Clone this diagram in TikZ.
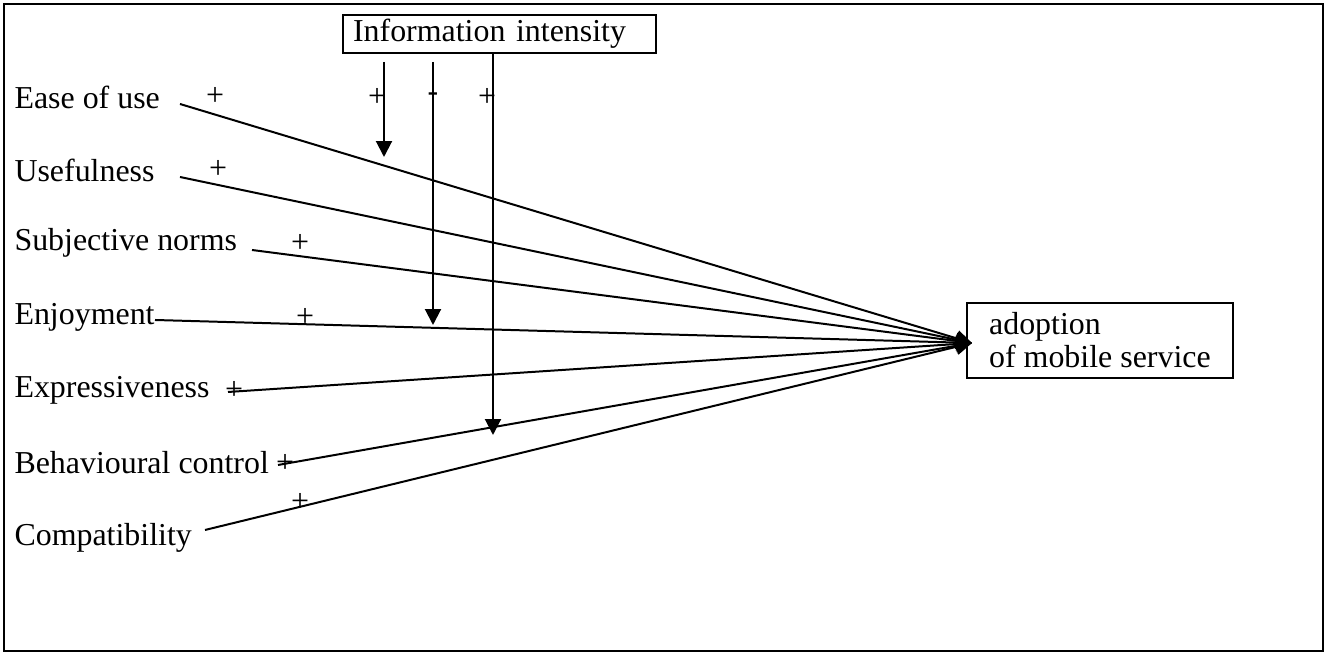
\documentclass[tikz,border=0pt]{standalone}
\usepackage{fontspec}
\setmainfont{Liberation Serif}
\usetikzlibrary{arrows.meta,positioning,calc}

\begin{document}
\begin{tikzpicture}[x=0.376pt,y=-0.376pt,font=\fontsize{12}{12.4}\selectfont,
	lbl/.style={anchor=west,inner sep=0pt},
	sign/.style={inner sep=0pt},
	box/.style={draw,line width=0.7pt,inner ysep=1pt},
	path/.style={line width=0.75pt,-{Triangle[length=6pt,width=6pt]}},
	modarrow/.style={line width=0.8pt,-{Triangle[length=6pt,width=6pt]}}]
	\useasboundingbox (0,0) rectangle (1327,655);
	\draw[line width=0.8pt] (4,4) rectangle (1323,651);
	% moderator and outcome
	\node[box,anchor=north west,minimum height=14.3pt,text width=110pt,
	inner xsep=3.8pt,align=left] (info) at (342,14) {Information intensity};
	\node[box,anchor=north west,minimum width=100pt,minimum height=28.2pt,
	align=left] (adopt) at (966,302) {adoption\\of mobile service};
	\coordinate (hub) at (972,343);
	% determinants
	\foreach \X/\ly/\sx/\sy/\px/\py [count=\Y] in
	{Ease of use/97/180/104/215/96,Usefulness/170/180/177/218/169,
		Subjective norms/243/252/250/300/243,Enjoyment/317/155/320/305/317,
		Expressiveness/390/228/392/234/390,Behavioural control/463/278/465/285/463,
		Compatibility/538/205/530/300/502}
	{\node[lbl] (F-\Y) at (14,\ly) {\X};
		\coordinate (S-\Y) at (\sx,\sy);
		\draw[path] (S-\Y) -- (hub);
		\node[sign] (P-\Y) at (\px,\py) {+};}
	% moderating effects
	\foreach \mx/\my/\gap [count=\Y] in {384/157/3pt,433/325/3pt,493/435/0pt}
	{\coordinate (M-\Y) at (\mx,\my);
		\draw[modarrow] ([yshift=-\gap]info.south -| M-\Y) -- (M-\Y);}
	\node[sign] (Q-1) at (377,97) {+};
	\node[sign] (Q-2) at (433,97) {-};
	\node[sign] (Q-3) at (487,97) {+};
\end{tikzpicture}
\end{document}
